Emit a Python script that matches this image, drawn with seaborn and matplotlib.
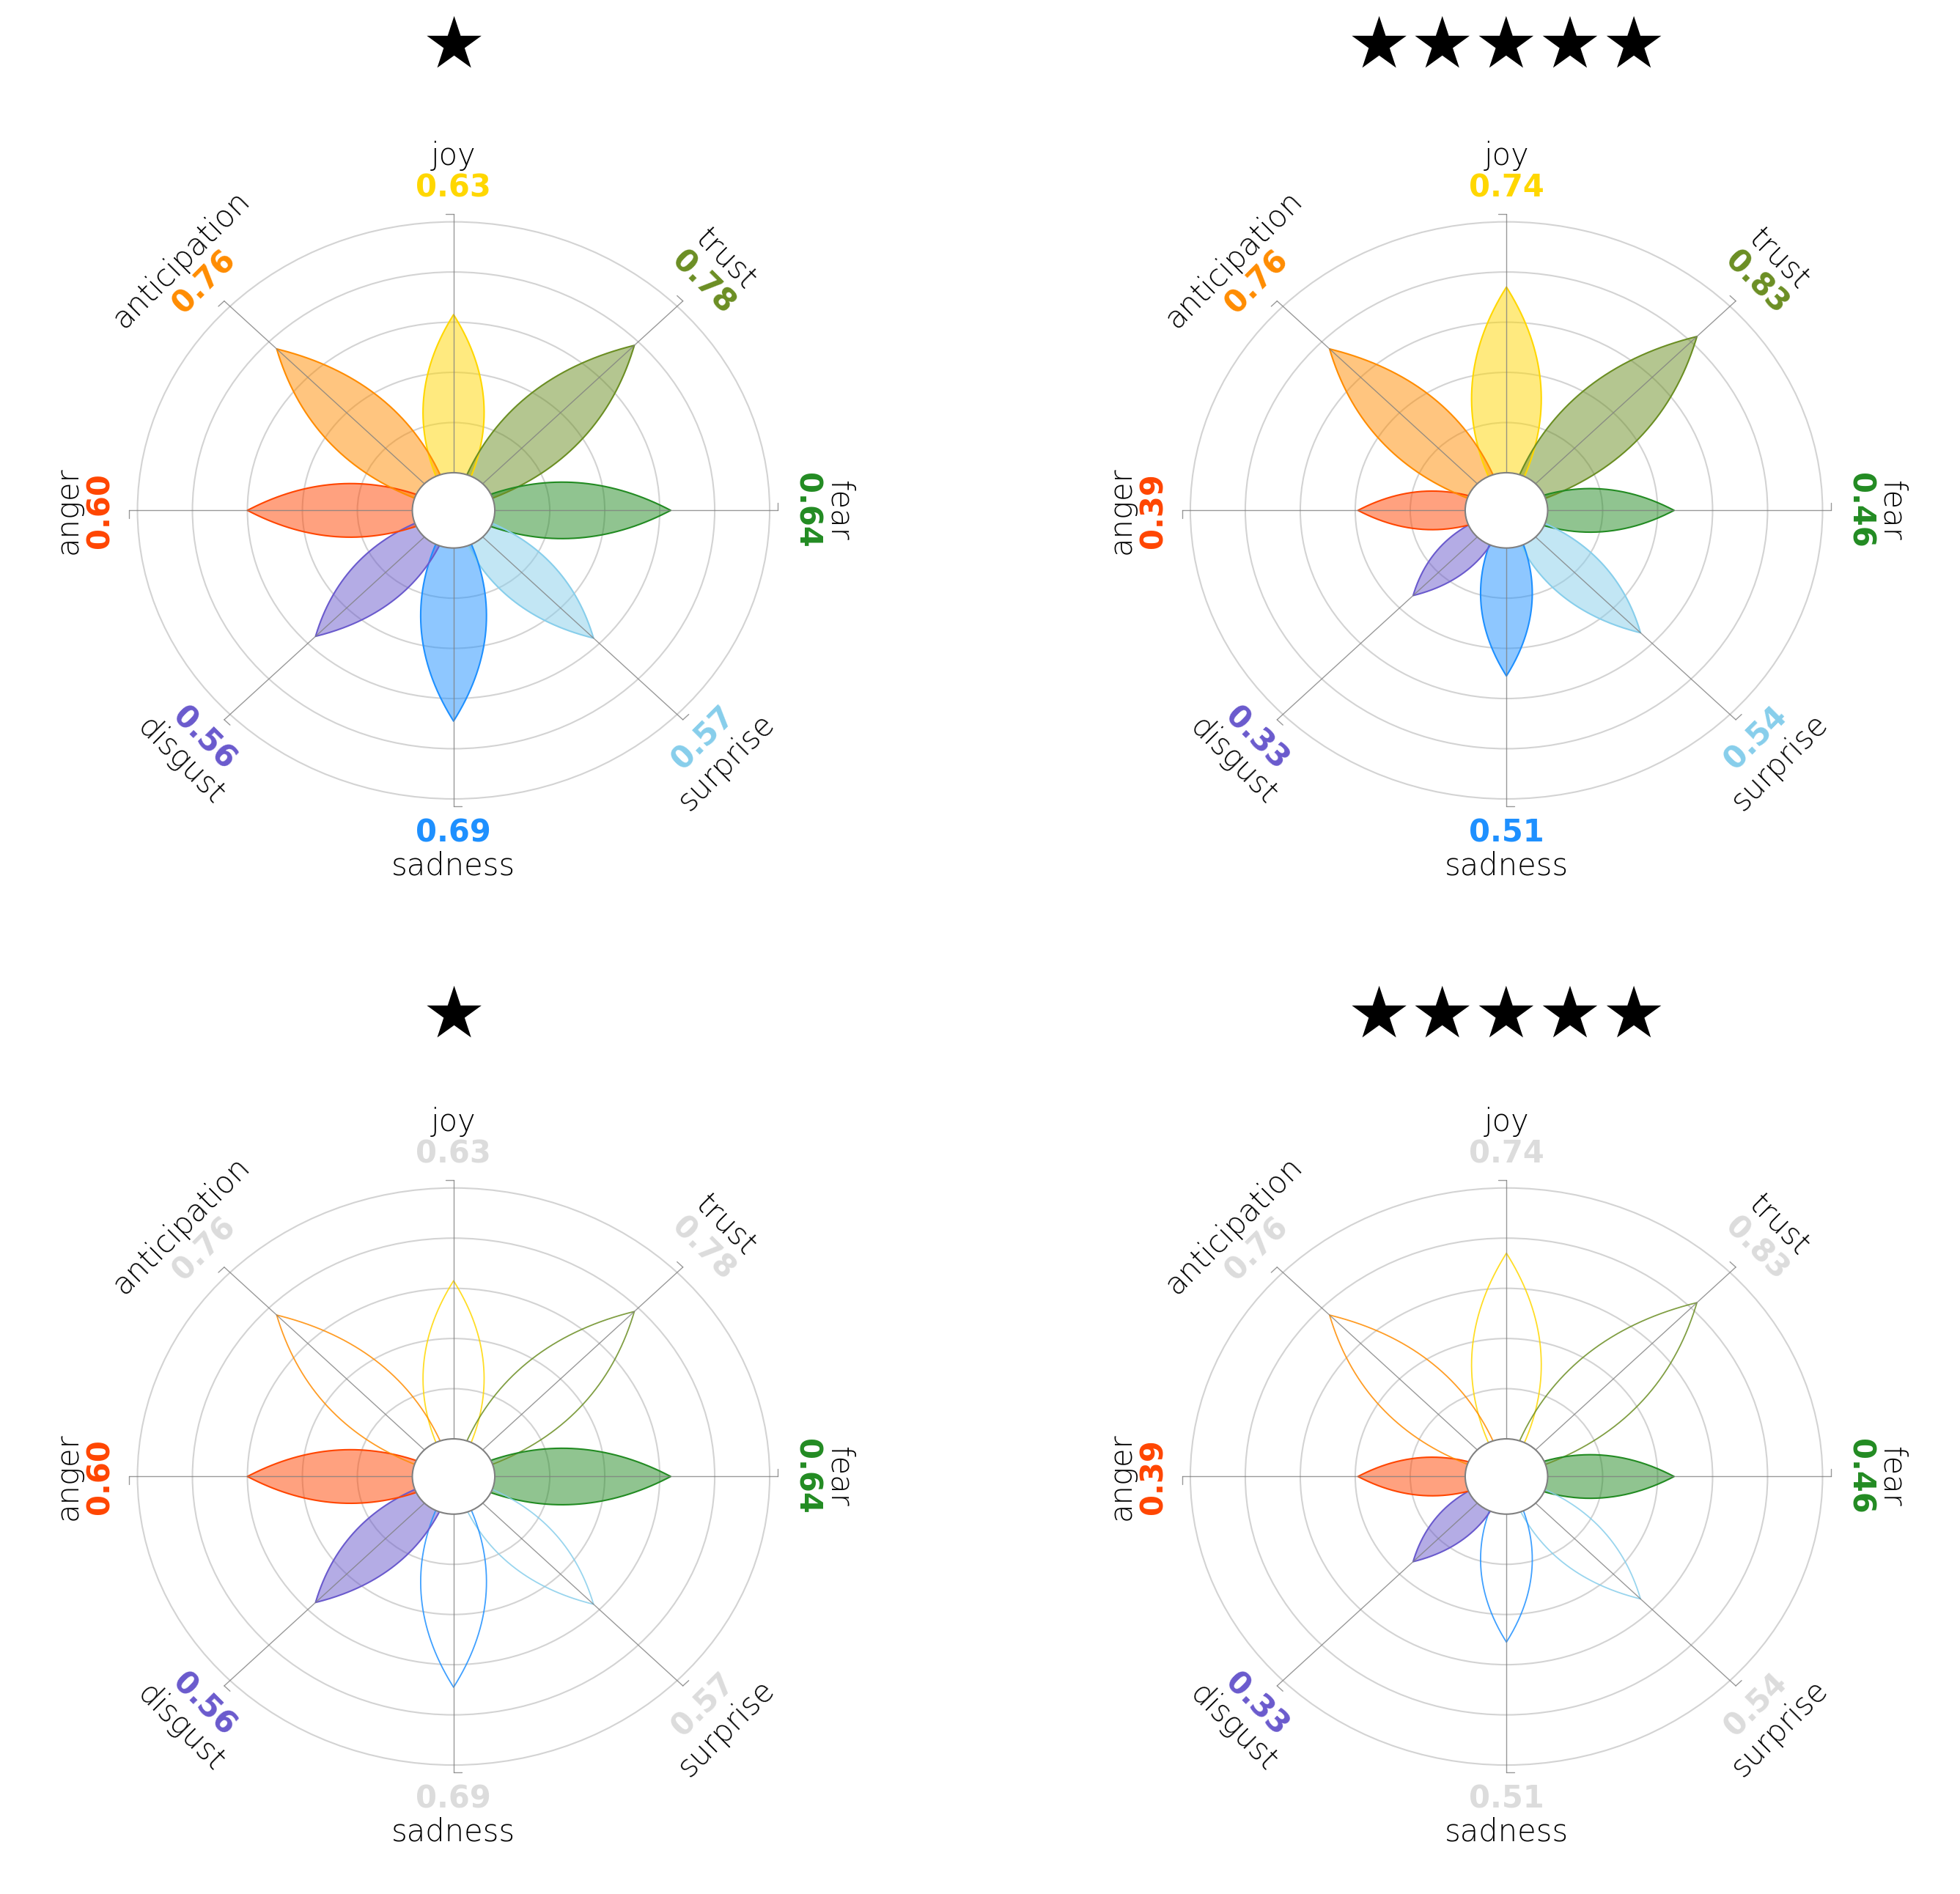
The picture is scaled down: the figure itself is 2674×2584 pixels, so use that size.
import numpy as np
import matplotlib
matplotlib.use('Agg')
import matplotlib.pyplot as plt
from matplotlib.patches import Circle
import seaborn as sns

sns.set_theme(style='white')
plt.rcParams['font.family'] = ['DejaVu Sans']

# Plutchik wheel data
emotions = ['joy', 'trust', 'fear', 'surprise', 'sadness', 'disgust', 'anger', 'anticipation']
emotion_colors = ['gold', 'olivedrab', 'forestgreen', 'skyblue',
                  'dodgerblue', 'slateblue', 'orangered', 'darkorange']
scores_one_star = [0.63, 0.78, 0.64, 0.57, 0.69, 0.56, 0.60, 0.76]
scores_five_star = [0.74, 0.83, 0.46, 0.54, 0.51, 0.33, 0.39, 0.76]
highlighted = ['anger', 'fear', 'disgust']
titles = ['\u2605', '\u2605\u2605\u2605\u2605\u2605']

palette = sns.color_palette(emotion_colors)
OFFSET = 0.15          # radius of the white centre
AXIS_LEN = 1.18
SCORE_R = 1.285

W, H = 2674, 2584
PX_X, PX_Y = 375.0, 342.3   # pixels per data unit
LIM = 1.6


def petal(ax, score, angle, color, filled):
    # lens-shaped petal from the centre out to offset + score
    L = score + OFFSET
    t = np.linspace(0, 1, 120)
    c, b = 0.19 * L, 0.33
    x = 3 * (1 - t) ** 2 * t * c + 3 * (1 - t) * t ** 2 * c
    y = 3 * (1 - t) ** 2 * t * b * L + 3 * (1 - t) * t ** 2 * (1 - b) * L + t ** 3 * L
    xs = np.concatenate([x, -x[::-1]])
    ys = np.concatenate([y, y[::-1]])
    phi = np.deg2rad(angle - 90)
    px = xs * np.cos(phi) - ys * np.sin(phi)
    py = xs * np.sin(phi) + ys * np.cos(phi)
    if filled:
        ax.fill(px, py, color=color, alpha=0.5, lw=0, zorder=2)
        ax.plot(px, py, color=color, lw=1.5, zorder=2.1)
    else:
        ax.plot(px, py, color=color, lw=1.3, alpha=0.85, zorder=2.1)


def plutchik(ax, scores, highlight=None):
    for r in np.arange(0.35, 1.16, 0.2):
        ax.add_patch(Circle((0, 0), r, fill=False, ec='lightgray', lw=1.5, zorder=1))
    for i, (emo, sc, col) in enumerate(zip(emotions, scores, palette)):
        ang = (90 - 45 * i) % 360
        a = np.deg2rad(ang)
        ca, sa = np.cos(a), np.sin(a)
        on = highlight is None or emo in highlight
        petal(ax, sc, ang, col, on)
        # spoke with a small tick at its end
        ax.plot([0, AXIS_LEN * ca], [0, AXIS_LEN * sa], color='gray', alpha=0.8, lw=1.0, zorder=3)
        ex, ey = AXIS_LEN * ca, AXIS_LEN * sa
        ax.plot([ex, ex - 0.03 * sa], [ey, ey + 0.03 * ca], color='gray', alpha=0.8, lw=1.0, zorder=3)
        # labels
        rot = ang - 90 if ang <= 180 else ang - 270
        sx, sy = SCORE_R * ca, SCORE_R * sa
        ax.annotate('{:.2f}'.format(sc), xy=(sx, sy), ha='center', va='center',
                    rotation=rot, fontsize=30, fontweight='bold',
                    color=col if on else 'gainsboro', zorder=5)
        ax.annotate(emo, xy=(sx, sy), xytext=(32 * ca, 32 * sa), textcoords='offset points',
                    ha='center', va='center', rotation=rot, fontsize=30,
                    fontweight='light', color='black', zorder=5)
    ax.add_patch(Circle((0, 0), OFFSET, fc='white', ec='gray', lw=1.5, zorder=4))
    ax.set_xlim(-LIM, LIM)
    ax.set_ylim(-LIM, LIM)
    ax.axis('off')


fig = plt.figure(figsize=(W / 100, H / 100), dpi=100)
aw, ah = 2 * LIM * PX_X, 2 * LIM * PX_Y
centres_x = [618.8, W - 618.8]
centres_y = [696.3, 2014.4]
title_y = [65, 1388]
panels = [(scores_one_star, None), (scores_five_star, None),
          (scores_one_star, highlighted), (scores_five_star, highlighted)]

for k, (scores, hl) in enumerate(panels):
    row, col = divmod(k, 2)
    cx, cy = centres_x[col], centres_y[row]
    ax = fig.add_axes([(cx - aw / 2) / W, 1 - (cy + ah / 2) / H, aw / W, ah / H])
    plutchik(ax, scores, hl)
    fig.text(cx / W, 1 - title_y[row] / H, titles[col], ha='center', va='center',
             fontsize=70, color='black')

fig.savefig('out.png', dpi=100, facecolor='white')
